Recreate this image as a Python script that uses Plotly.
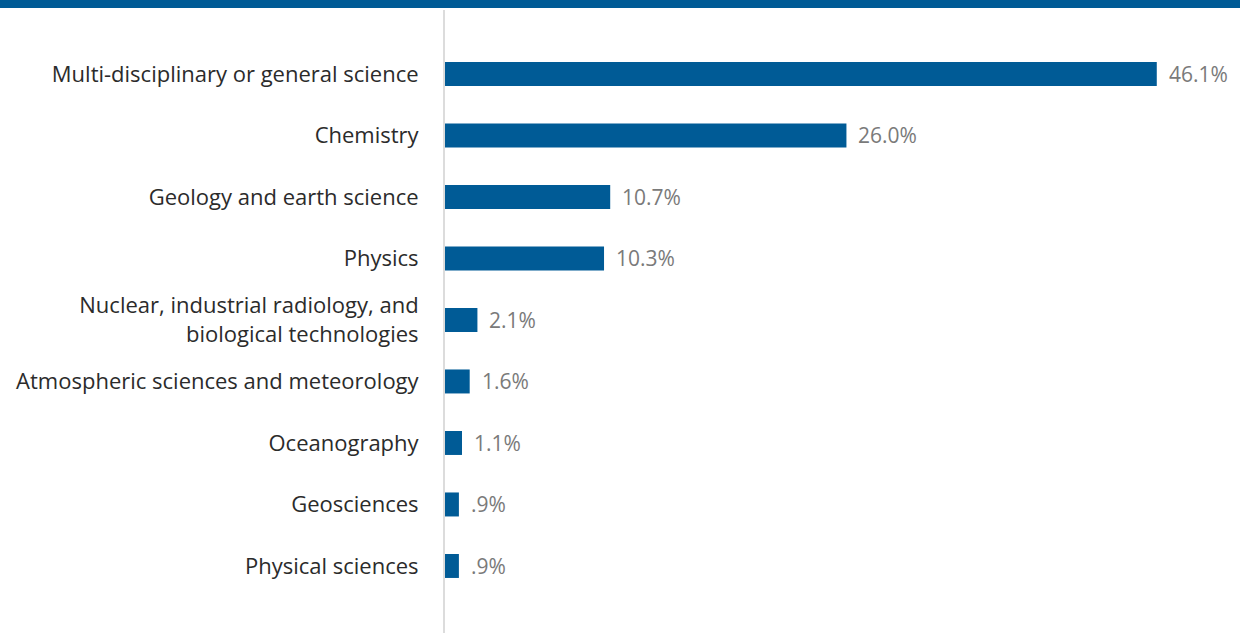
import plotly.graph_objects as go

categories = [
    "Multi-disciplinary or general science",
    "Chemistry",
    "Geology and earth science",
    "Physics",
    "Nuclear, industrial radiology, and<br>biological technologies",
    "Atmospheric sciences and meteorology",
    "Oceanography",
    "Geosciences",
    "Physical sciences",
]
values = [46.1, 26.0, 10.7, 10.3, 2.1, 1.6, 1.1, 0.9, 0.9]
value_labels = ["46.1%", "26.0%", "10.7%", "10.3%", "2.1%", "1.6%", "1.1%", ".9%", ".9%"]

BLUE = "#005b96"
W, H = 1240, 633
ML, MT = 445, 10
PW, PH = W - ML, H - MT

fig = go.Figure(go.Bar(
    x=values, y=categories, orientation="h",
    marker=dict(color=BLUE, line=dict(width=0)),
    width=0.39, hoverinfo="skip",
))

for v, c, t in zip(values, categories, value_labels):
    fig.add_annotation(x=v, y=c, text=t, showarrow=False, xanchor="left",
                       xshift=10, font=dict(family="Open Sans", size=21, color="#7a7a7a"))

fig.add_shape(type="rect", xref="paper", yref="paper",
              x0=-ML / PW, x1=1.0, y0=1.0 + 2 / PH, y1=1.0 + MT / PH + 0.01,
              fillcolor=BLUE, line=dict(width=0), layer="above")

fig.update_layout(
    width=W, height=H,
    margin=dict(l=ML, r=0, t=MT, b=0, pad=0),
    paper_bgcolor="white", plot_bgcolor="white",
    showlegend=False, bargap=0.61,
    xaxis=dict(range=[0, PW / 15.44], visible=False, fixedrange=True),
    yaxis=dict(type="category", range=[9.09, -1.04], showgrid=False,
               showline=True, linecolor="#dcdcdc", linewidth=2,
               ticks="", ticklabelstandoff=20, zeroline=False,
               tickfont=dict(family="Open Sans", size=22, color="#2b2b2b")),
)

fig.write_html("out.html", config={"displayModeBar": False},
               post_script="document.body.style.margin='0';document.body.style.overflow='hidden';")
